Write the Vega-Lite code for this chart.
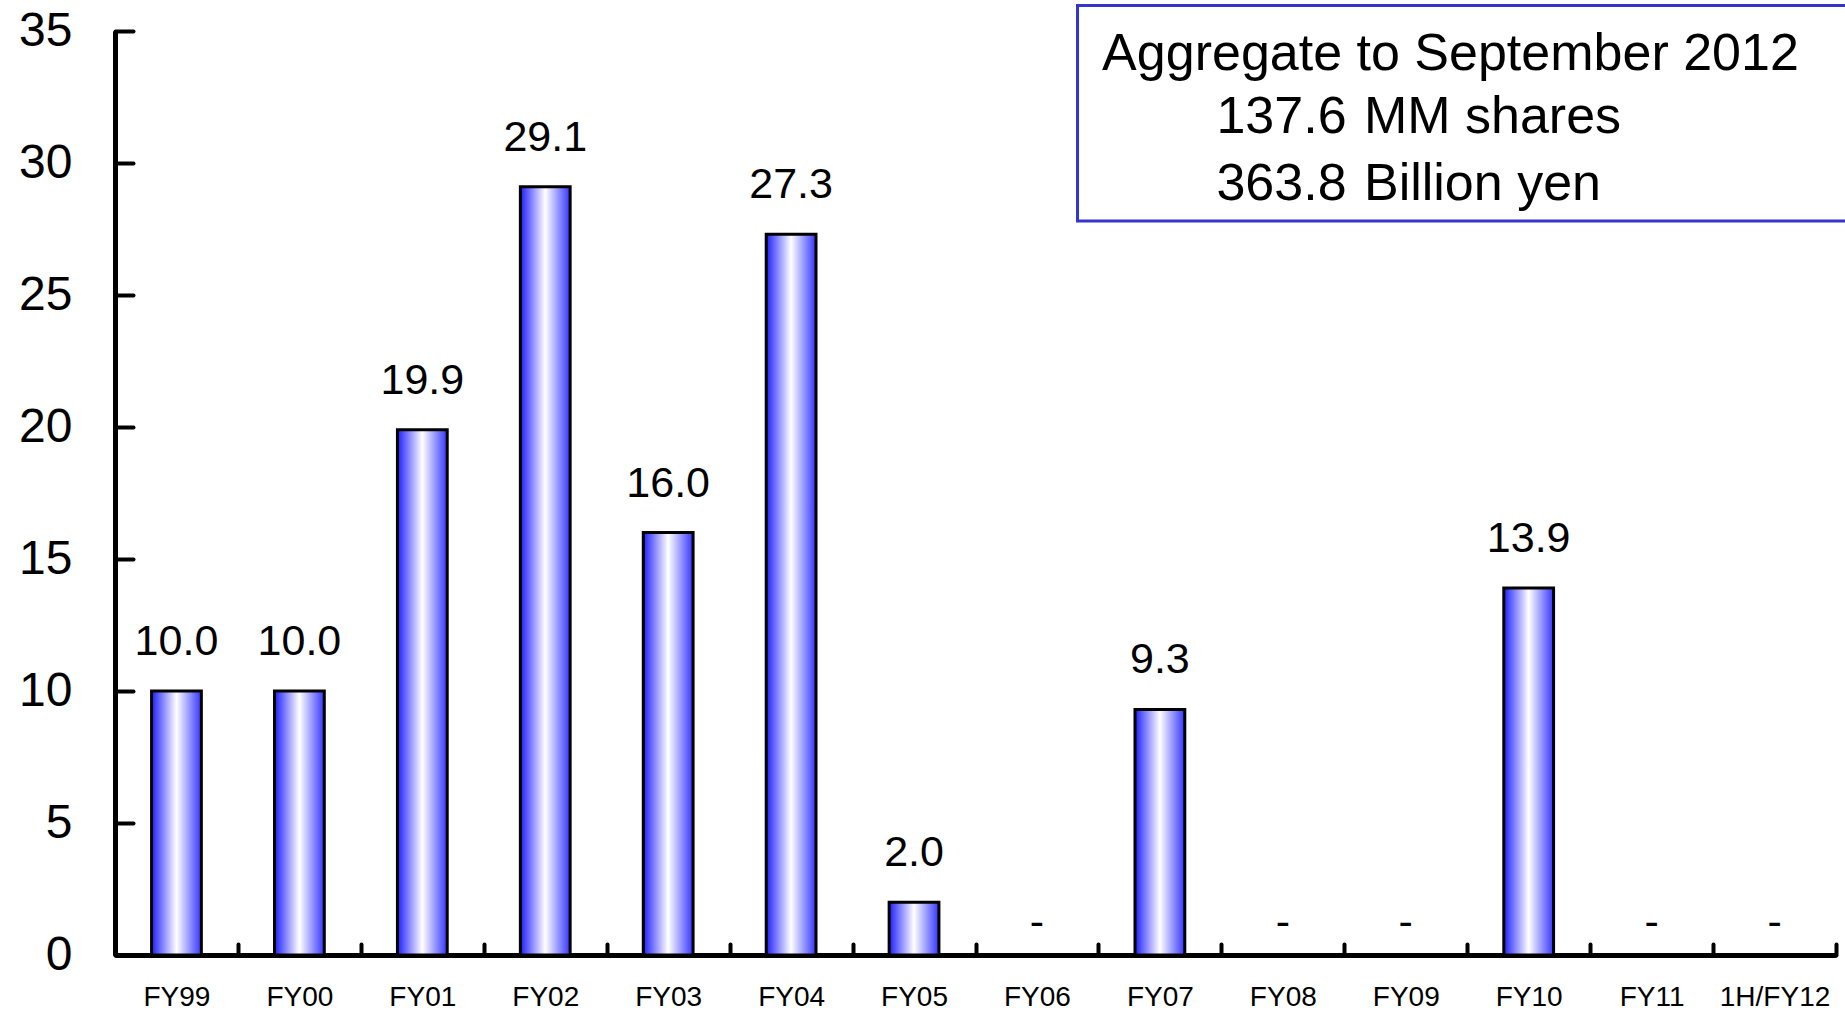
{
  "$schema": "https://vega.github.io/schema/vega-lite/v6.json",
  "autosize": {"type": "none"},
  "width": 1721,
  "height": 924,
  "padding": {"left": 115, "top": 31, "right": 9, "bottom": 58},
  "background": "white",
  "config": {
    "font": "Liberation Sans",
    "view": {"stroke": null},
    "axis": {"grid": false, "title": null, "labelColor": "black", "domainColor": "black", "tickColor": "black", "labelFont": "Liberation Sans"}
  },
  "datasets": {
    "main": [
      {"fy": "FY99", "v": 10.0},
      {"fy": "FY00", "v": 10.0},
      {"fy": "FY01", "v": 19.9},
      {"fy": "FY02", "v": 29.1},
      {"fy": "FY03", "v": 16.0},
      {"fy": "FY04", "v": 27.3},
      {"fy": "FY05", "v": 2.0},
      {"fy": "FY06", "v": 0},
      {"fy": "FY07", "v": 9.3},
      {"fy": "FY08", "v": 0},
      {"fy": "FY09", "v": 0},
      {"fy": "FY10", "v": 13.9},
      {"fy": "FY11", "v": 0},
      {"fy": "1H/FY12", "v": 0}
    ],
    "box": [{"x1": 7.83, "x2": 14.3, "y1": 27.8, "y2": 35.97}],
    "note": [
      {"t": "Aggregate to September 2012", "x": 8.03, "y": 33.52},
      {"t": "137.6", "x": 8.96, "y": 31.12},
      {"t": "MM shares", "x": 10.16, "y": 31.12},
      {"t": "363.8", "x": 8.96, "y": 28.6},
      {"t": "Billion yen", "x": 10.16, "y": 28.6}
    ]
  },
  "layer": [
    {
      "data": {"name": "main"},
      "encoding": {
        "x": {
          "field": "fy", "type": "nominal", "sort": null,
          "scale": {"domain": ["FY99","FY00","FY01","FY02","FY03","FY04","FY05","FY06","FY07","FY08","FY09","FY10","FY11","1H/FY12"], "paddingInner": 0, "paddingOuter": 0},
          "axis": {
            "tickBand": "extent", "tickSize": -11, "tickWidth": 4, "tickCap": "round",
            "domainWidth": 5, "labelFontSize": 28, "labelPadding": 39, "labelAngle": 0
          }
        },
        "y": {
          "field": "v", "type": "quantitative",
          "scale": {"domain": [0, 35], "nice": false, "zero": true},
          "axis": {
            "values": [0, 5, 10, 15, 20, 25, 30, 35], "tickSize": -18, "tickWidth": 4, "tickCap": "round",
            "domainWidth": 5, "labelFontSize": 48, "labelPadding": 61
          }
        }
      },
      "layer": [
        {
          "transform": [{"filter": "datum.v > 0"}],
          "mark": {
            "type": "bar", "width": {"band": 0.405}, "stroke": "black", "strokeWidth": 3,
            "color": {"gradient": "linear", "x1": 0, "x2": 1, "y1": 0, "y2": 0,
              "stops": [{"offset": 0, "color": "#1e1eff"}, {"offset": 0.5, "color": "#ffffff"}, {"offset": 1, "color": "#3434ff"}]}
          }
        },
        {
          "transform": [{"filter": "datum.v > 0"}],
          "mark": {"type": "text", "fontSize": 43, "baseline": "alphabetic", "dy": -36, "color": "black"},
          "encoding": {"text": {"field": "v", "type": "quantitative", "format": ".1f"}}
        },
        {
          "transform": [{"filter": "datum.v == 0"}, {"calculate": "'-'", "as": "dash"}],
          "mark": {"type": "text", "fontSize": 43, "baseline": "alphabetic", "dy": -19, "color": "black"},
          "encoding": {"text": {"field": "dash", "type": "nominal"}}
        }
      ]
    },
    {
      "layer": [
        {
          "data": {"name": "box"},
          "mark": {"type": "rect", "fill": "white", "stroke": "#3535cc", "strokeWidth": 3, "clip": false},
          "encoding": {
            "x": {"field": "x1", "type": "quantitative", "scale": {"domain": [0, 14], "nice": false, "zero": false}, "axis": null},
            "x2": {"field": "x2"},
            "y": {"field": "y1", "type": "quantitative", "scale": {"domain": [0, 35], "nice": false}, "axis": null},
            "y2": {"field": "y2"}
          }
        },
        {
          "data": {"name": "note"},
          "mark": {"type": "text", "fontSize": 52, "align": "left", "baseline": "alphabetic", "color": "black", "clip": false},
          "encoding": {
            "x": {"field": "x", "type": "quantitative", "scale": {"domain": [0, 14], "nice": false, "zero": false}, "axis": null},
            "y": {"field": "y", "type": "quantitative", "scale": {"domain": [0, 35], "nice": false}, "axis": null},
            "text": {"field": "t", "type": "nominal"}
          }
        }
      ]
    }
  ],
  "resolve": {"scale": {"x": "independent"}, "axis": {"x": "independent", "y": "independent"}}
}
